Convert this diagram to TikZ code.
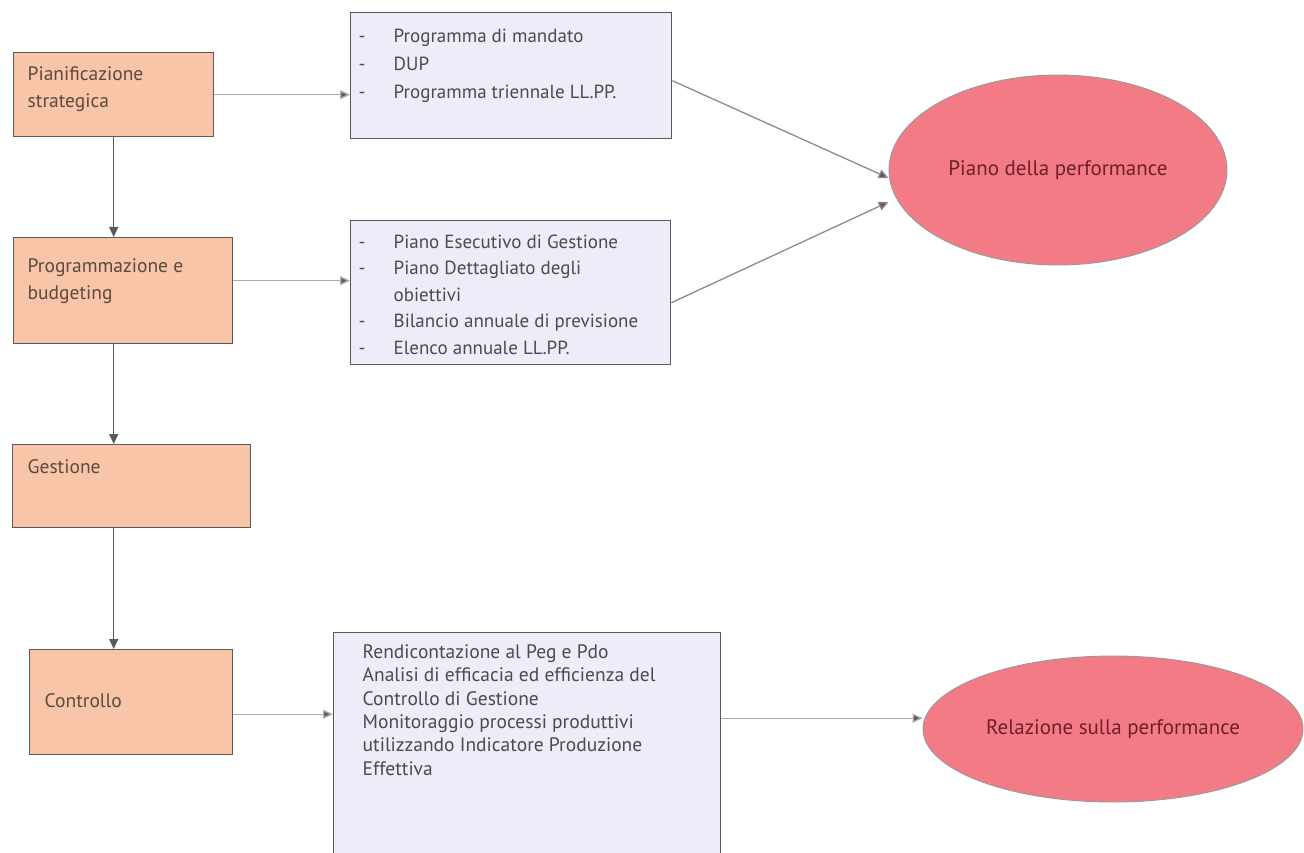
\documentclass[tikz,border=0pt]{standalone}
\usepackage{fontspec}
\setmainfont{PT Sans}
\usetikzlibrary{arrows.meta,shapes.geometric}
\definecolor{peach}{HTML}{F9C5A9}
\definecolor{lilac}{HTML}{EDEDF9}
\definecolor{rosa}{HTML}{F27B86}
\definecolor{boxline}{HTML}{5A5A5A}
\definecolor{phasetext}{HTML}{5B4A3E}
\definecolor{listtext}{HTML}{4A4A55}
\definecolor{ovaltext}{HTML}{6E1F2A}
% width, height, left pad, top pad, text
\newcommand{\cella}[5]{\parbox[t][#2][t]{#1}{\raggedright\leftskip=#3\vspace*{#4}#5}}
\newcommand{\voce}[1]{\makebox[35pt][l]{-}#1}
\begin{document}
\begin{tikzpicture}[x=1pt,y=-1pt,
  phase/.style={draw=boxline,fill=peach,line width=1.4pt,anchor=north west,inner sep=0pt,
    text=phasetext,font=\fontsize{19.5}{27}\selectfont},
  elenco/.style={draw=boxline,fill=lilac,line width=1.4pt,anchor=north west,inner sep=0pt,
    text=listtext,font=\fontsize{19}{27}\selectfont},
  esito/.style={ellipse,draw=gray!80,fill=rosa,line width=0.9pt,inner sep=0pt,
    text=ovaltext,font=\fontsize{21}{24}\selectfont},
  conn/.style={draw=boxline,line width=1.3pt,-{Triangle[length=10pt,width=9pt]}},
  hconn/.style={draw=gray!65,line width=1.3pt,-{Triangle[length=10pt,width=9pt,fill=boxline]}},
  dconn/.style={draw=gray!90,line width=1.3pt,-{Triangle[length=10pt,width=9pt,fill=boxline]}}]
\useasboundingbox[fill=white] (0,0) rectangle (1304,853);

% fasi del ciclo
\node[phase] (pian)  at (13,52)  {\cella{200pt}{84pt}{14pt}{14pt}{Pianificazione\\strategica}};
\node[phase] (prog)  at (13,237) {\cella{219pt}{106pt}{14pt}{21pt}{Programmazione e\\budgeting}};
\node[phase] (gest)  at (12,444) {\cella{238pt}{83pt}{15pt}{15pt}{Gestione}};
\node[phase] (contr) at (29,649) {\cella{203pt}{105pt}{15pt}{44pt}{Controllo}};

% documenti
\node[elenco,font=\fontsize{19}{28}\selectfont] (mandato) at (350,12) {\cella{321pt}{126pt}{8pt}{16pt}{%
  \voce{Programma di mandato}\\
  \voce{DUP}\\
  \voce{Programma triennale LL.PP.}}};
\node[elenco,font=\fontsize{19}{26.5}\selectfont] (budget) at (350,220) {\cella{320pt}{144pt}{8pt}{14pt}{%
  \voce{Piano Esecutivo di Gestione}\\
  \voce{Piano Dettagliato degli}\\
  \hspace*{35pt}obiettivi\\
  \voce{Bilancio annuale di previsione}\\
  \voce{Elenco annuale LL.PP.}}};
\node[elenco,font=\fontsize{19.5}{23.3}\selectfont] (resoc) at (333,632) {\cella{387pt}{240pt}{29pt}{12pt}{%
  Rendicontazione al Peg e Pdo\\
  Analisi di efficacia ed efficienza del\\
  Controllo di Gestione\\
  Monitoraggio processi produttivi\\
  utilizzando Indicatore Produzione\\
  Effettiva}};

% performance
\node[esito,minimum width=338pt,minimum height=190pt] (piano) at (1058,170) {Piano della performance};
\node[esito,minimum width=380pt,minimum height=146pt] (relaz) at (1113,729) {Relazione sulla performance};

\draw[conn] (pian.south) -- (prog.north -| pian.south);
\draw[conn] (prog.south -| pian.south) -- (gest.north -| pian.south);
\draw[conn] (gest.south -| pian.south) -- (contr.north -| pian.south);

\draw[hconn] (pian.east) -- (pian.east -| mandato.west);
\draw[hconn] ([yshift=10pt]prog.east) -- ([yshift=10pt]prog.east -| budget.west);
\draw[hconn] ([yshift=-12pt]contr.east) -- ([yshift=-12pt]contr.east -| resoc.west);
\draw[hconn] ([yshift=-16pt]contr.east -| resoc.east) -- ([yshift=-16pt]contr.east -| relaz.west);

\draw[dconn] ([yshift=-5pt]mandato.east) -- ([yshift=-8pt]piano.west);
\draw[dconn] ([yshift=-10pt]budget.east) -- ([yshift=-32pt]piano.west);
\end{tikzpicture}
\end{document}
